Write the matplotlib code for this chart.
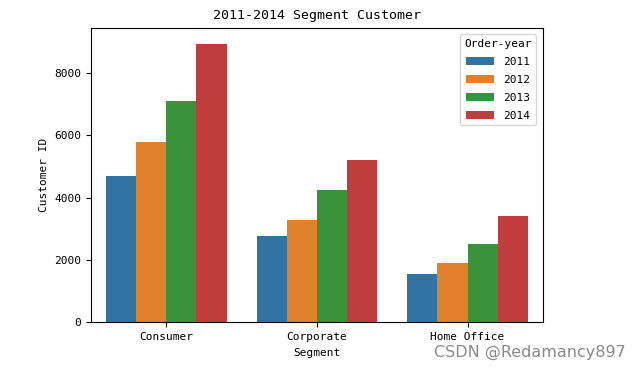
import matplotlib
matplotlib.use('Agg')
import matplotlib.pyplot as plt
import seaborn as sns
import pandas as pd

segments = ['Consumer', 'Corporate', 'Home Office']
years = ['2011', '2012', '2013', '2014']
consumer = [4700, 5790, 7115, 8920]
corporate = [2760, 3285, 4240, 5215]
home_office = [1560, 1910, 2515, 3410]

rows = []
for seg, vals in zip(segments, [consumer, corporate, home_office]):
    for yr, v in zip(years, vals):
        rows.append({'Segment': seg, 'Order-year': yr, 'Customer ID': v})
df = pd.DataFrame(rows)

plt.rcParams['font.family'] = ['DejaVu Sans Mono']

fig = plt.figure(figsize=(6.41, 3.70), dpi=100)
ax = fig.add_axes([0.142, 0.129, 0.705, 0.796])
sns.barplot(data=df, x='Segment', y='Customer ID', hue='Order-year',
            errorbar=None, ax=ax, saturation=0.75)
ax.set_xlim(-0.5, 2.5)
ax.set_ylim(0, 9450)
ax.set_yticks([0, 2000, 4000, 6000, 8000])
ax.tick_params(labelsize=8)
ax.set_title('2011-2014 Segment Customer', fontsize=9.5)
ax.set_xlabel('Segment', fontsize=8)
ax.set_ylabel('Customer ID', fontsize=8)
leg = ax.legend(title='Order-year', loc='upper right', fontsize=8,
                title_fontsize=8, handlelength=2.5, labelspacing=0.72,
                borderaxespad=0.6)

fig.text(0.976, 0.048, 'CSDN @Redamancy897', ha='right', va='center',
         fontsize=11.5, color='#8a8a8a', family='DejaVu Sans')

fig.savefig('out.png', dpi=100)
